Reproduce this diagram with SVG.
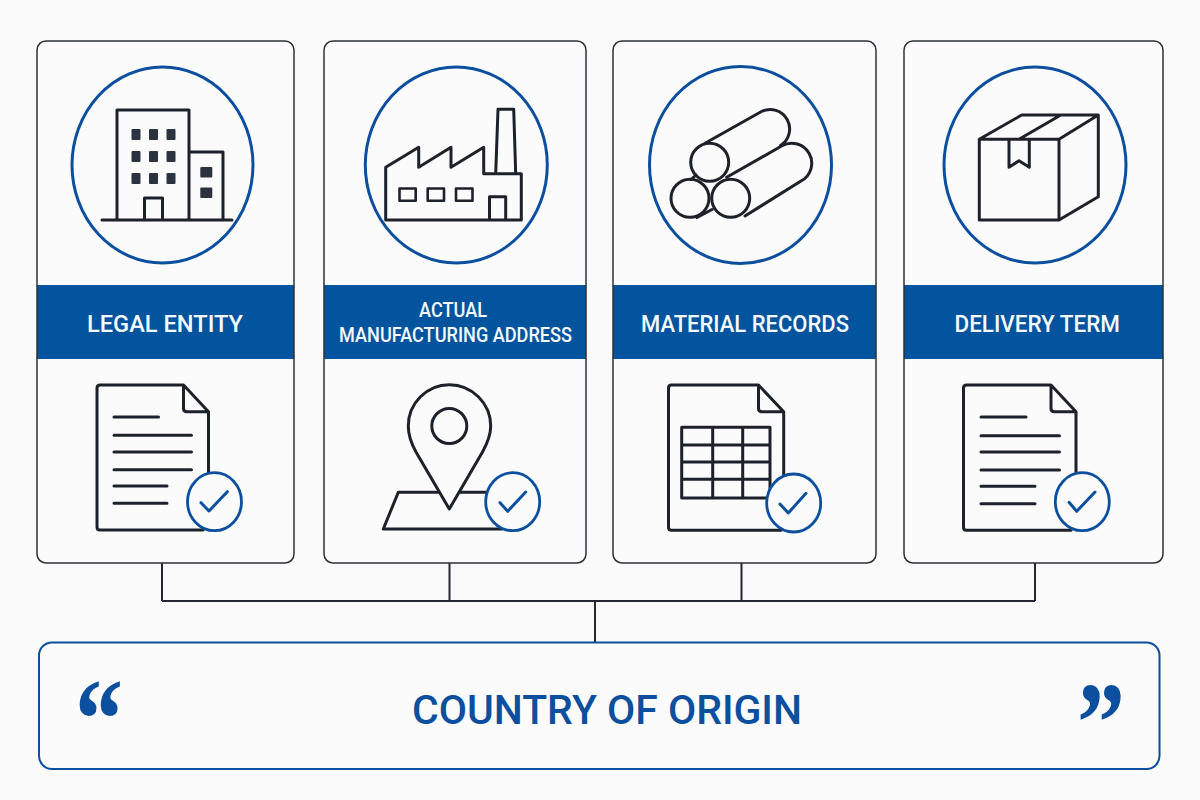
<svg xmlns="http://www.w3.org/2000/svg" width="1200" height="800" viewBox="0 0 1200 800">
<style>
.bg{fill:#fafafa}
.card{fill:#fbfbfc}
.edge{fill:none;stroke:#2c3036;stroke-width:1.5}
.band{fill:#03549e}
.ring{fill:none;stroke:#0b4f9e;stroke-width:3}
.i{fill:none;stroke:#1c212a;stroke-width:3;stroke-linejoin:round;stroke-linecap:round}
.t{stroke-width:2.6}
.w{fill:#2b3340;stroke:none}
.badge{fill:#fbfbfc;stroke:#0b4f9e;stroke-width:2.8}
.tick{fill:none;stroke:#0b4f9e;stroke-width:3;stroke-linecap:round;stroke-linejoin:round}
.lab{font-family:Roboto,"Liberation Sans",sans-serif;font-weight:500;fill:#f7f9fc}
.l1{font-size:24.500px}
.l2{font-size:21px}
.title{font-family:Roboto,"Liberation Sans",sans-serif;font-weight:500;font-size:40px;fill:#0b4f9e}
.q{font-family:"Liberation Serif",serif;font-weight:700;font-size:96px;fill:#0b4f9e}
.conn{fill:none;stroke:#24282e;stroke-width:2}
</style>
<rect class="bg" x="0" y="0" width="1200" height="800"/>
<g id="connectors">
<path class="conn" d="M162 563V601M449.500 563V601M741.500 563V601M1035 563V601M162 601H1035M595 601V642"/>
</g>
<g id="legal-entity">
<rect class="card" x="37" y="41" width="257" height="522" rx="9"/>
<rect class="band" x="37" y="285" width="257" height="74"/>
<rect class="edge" x="37" y="41" width="257" height="522" rx="9"/>
<ellipse class="ring" cx="162.500" cy="165" rx="90.500" ry="98"/>
<path class="i" d="M117 220V110H189V220M189 152H223V220M102 220H232M144.500 220V198H162.500V220"/>
<g class="w">
<rect x="131.500" y="129" width="9" height="11" rx="1"/><rect x="149" y="129" width="9" height="11" rx="1"/><rect x="166.500" y="129" width="9" height="11" rx="1"/>
<rect x="131.500" y="151" width="9" height="11" rx="1"/><rect x="149" y="151" width="9" height="11" rx="1"/><rect x="166.500" y="151" width="9" height="11" rx="1"/>
<rect x="131.500" y="173" width="9" height="11" rx="1"/><rect x="149" y="173" width="9" height="11" rx="1"/><rect x="166.500" y="173" width="9" height="11" rx="1"/>
<rect x="200.300" y="167" width="12" height="10.500" rx="1"/><rect x="200.300" y="187.500" width="12" height="10.500" rx="1"/>
</g>
<text class="lab l1" x="87" y="331.500" textLength="156" lengthAdjust="spacingAndGlyphs">LEGAL ENTITY</text>
<path class="i" d="M203 530H100Q97 530 97 527V388Q97 385 100 385H183.500L208.500 411.700V472M183.500 385V408.500Q183.500 411.700 187 411.700H208.500M114 417H158.500M114 435.300H191.500M114 452H191.500M114 469.700H191.500M114 486H167M114 503.300H167"/>
<ellipse class="badge" cx="214.500" cy="501.700" rx="27" ry="29"/>
<path class="tick" d="M201 502.700L209 511L227.300 491.700"/>
</g>
<g id="actual-manufacturing-address">
<rect class="card" x="324" y="41" width="262" height="522" rx="9"/>
<rect class="band" x="324" y="285" width="262" height="74"/>
<rect class="edge" x="324" y="41" width="262" height="522" rx="9"/>
<ellipse class="ring" cx="456.300" cy="165" rx="91" ry="98"/>
<path class="i" d="M385.700 220V167.300L418.700 147.300V167.300L451 147.300V167.300L483.700 147.300V173.700H521.300V220ZM495.700 173.700L498 109.300H513.700L515.700 173.700M489.500 220V196.700H505.700V220"/>
<path class="i t" d="M399.500 188.500H415.700V200.700H399.500ZM427.700 188.500H444V200.700H427.700ZM456 188.500H472.500V200.700H456Z"/>
<text class="lab l2" x="419" y="317" textLength="68" lengthAdjust="spacingAndGlyphs">ACTUAL</text>
<text class="lab l2" x="339" y="342" textLength="233" lengthAdjust="spacingAndGlyphs">MANUFACTURING ADDRESS</text>
<path class="i" d="M449.300 509L416 452C411 443 408.300 436 408.300 426C408.300 403 427 384.700 449.300 384.700C471.600 384.700 490.700 403 490.700 426C490.700 436 487.500 443 482.500 452Z"/>
<circle class="i" cx="449.300" cy="426" r="17.500"/>
<path class="i" d="M438 492.300H398.300L383.300 529H502M460.500 492.300H487"/>
<ellipse class="badge" cx="512.700" cy="501.700" rx="27" ry="29"/>
<path class="tick" d="M500 502.700L507.700 511.300L525.700 492"/>
</g>
<g id="material-records">
<rect class="card" x="613" y="41" width="263" height="522" rx="9"/>
<rect class="band" x="613" y="285" width="263" height="74"/>
<rect class="edge" x="613" y="41" width="263" height="522" rx="9"/>
<ellipse class="ring" cx="740.500" cy="165" rx="91" ry="98.500"/>
<path class="i" d="M705 143.300L761.500 111.500A19.500 19.500 0 0 1 780.500 145.500M726.700 177.300L782 145.800A20 20 0 0 1 801.400 180.800L745 216M691 179.500L696 175M697 217.500L712 209.500"/>
<circle class="i" cx="709.700" cy="162.300" r="19"/>
<circle class="i" cx="690" cy="198.300" r="19"/>
<circle class="i" cx="730.700" cy="198.300" r="19"/>
<text class="lab l1" x="641" y="331.500" textLength="208" lengthAdjust="spacingAndGlyphs">MATERIAL RECORDS</text>
<path class="i" d="M781 530.300H671.500Q668.500 530.300 668.500 527.300V388Q668.500 385 671.500 385H758.500L783.700 411.700V475M758.500 385V408.500Q758.500 411.700 762 411.700H783.700"/>
<path class="i" d="M681.700 427.300H770V498H681.700ZM712.700 427.300V498M742.700 427.300V498M681.700 445H770M681.700 462H770M681.700 479.300H770"/>
<ellipse class="badge" cx="793.700" cy="503" rx="27" ry="29"/>
<path class="tick" d="M780 504L788.300 513L806 493.300"/>
</g>
<g id="delivery-term">
<rect class="card" x="904" y="41" width="259" height="522" rx="9"/>
<rect class="band" x="904" y="285" width="259" height="74"/>
<rect class="edge" x="904" y="41" width="259" height="522" rx="9"/>
<ellipse class="ring" cx="1035" cy="165" rx="91" ry="98"/>
<path class="i" d="M979.300 139.300H1059V220H979.300ZM979.300 139.300L1021.700 115H1098.300L1059 139.300M1098.300 115V196.700L1059 220M1019 139.300L1060 115.500M1009 139.300V167.300L1019 160.700L1029.300 167.300V139.300"/>
<text class="lab l1" x="954.500" y="331.500" textLength="165.500" lengthAdjust="spacingAndGlyphs">DELIVERY TERM</text>
<path class="i" d="M1071 530.300H966.500Q963.500 530.300 963.500 527.300V388Q963.500 385 966.500 385H1051L1076 411.700V472M1051 385V408.500Q1051 411.700 1054.500 411.700H1076M981 417H1026M981 435.700H1059.500M981 452H1059.500M981 470H1059.500M981 486.300H1035M981 503.700H1035"/>
<ellipse class="badge" cx="1082.300" cy="501.700" rx="27" ry="29"/>
<path class="tick" d="M1069 502.300L1076.700 511.300L1095 492"/>
</g>
<g id="country-of-origin">
<rect x="39" y="642.500" width="1120.500" height="126.500" rx="13" fill="#fbfbfc" stroke="#0b4f9e" stroke-width="2"/>
<text class="q" transform="translate(75 757.600) scale(1 1.200)">“</text>
<text class="q" transform="translate(1077 760.600) scale(1 1.200)">”</text>
<text class="title" x="412" y="723.500" textLength="390" lengthAdjust="spacingAndGlyphs">COUNTRY OF ORIGIN</text>
</g>
</svg>
